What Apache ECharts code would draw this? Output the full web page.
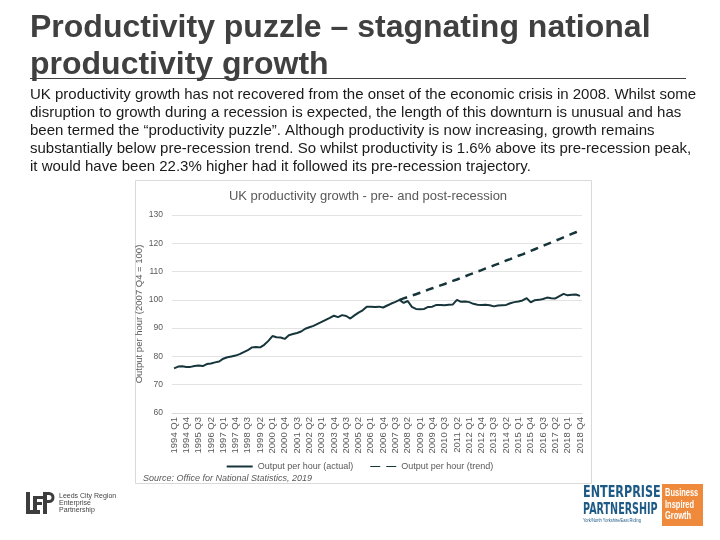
<!DOCTYPE html>
<html>
<head>
<meta charset="utf-8">
<script src="https://cdn.jsdelivr.net/npm/echarts@6/dist/echarts.min.js"></script>
<style>html,body{margin:0;padding:0;background:#fff}#c{width:720px;height:540px}</style>
</head>
<body>
<div id="c"></div>
<script>
// Quarters 1994 Q1 .. 2018 Q4
var years = [];
for (var y = 1994; y <= 2018; y++) years.push(y);
var quarters = [];
years.forEach(function (yr) { ['Q1','Q2','Q3','Q4'].forEach(function (q) { quarters.push(yr + ' ' + q); }); });

// Output per hour (actual), 2007 Q4 = 100
var actual = [
  75.8, 76.4, 76.5, 76.3, 76.3, 76.6, 76.8, 76.6, 77.3, 77.5,
  77.9, 78.2, 79.2, 79.7, 80.0, 80.3, 80.8, 81.5, 82.2, 83.2,
  83.3, 83.2, 84.1, 85.5, 87.2, 86.8, 86.7, 86.2, 87.5, 87.9,
  88.3, 88.8, 89.8, 90.3, 90.8, 91.5, 92.2, 92.9, 93.6, 94.4,
  93.9, 94.6, 94.3, 93.4, 94.5, 95.5, 96.3, 97.6, 97.6, 97.5,
  97.6, 97.3, 98.0, 98.7, 99.3, 100.0, 98.9, 99.6, 97.5, 96.8,
  96.7, 96.8, 97.5, 97.6, 98.2, 98.2, 98.1, 98.3, 98.4, 100.0,
  99.3, 99.4, 99.2, 98.6, 98.3, 98.2, 98.3, 98.1, 97.7, 98.0,
  98.1, 98.2, 98.8, 99.2, 99.4, 99.8, 100.6, 99.1, 99.9, 100.0,
  100.3, 100.8, 100.6, 100.5, 101.3, 102.1, 101.6, 101.8, 101.9, 101.4
];

// Output per hour (trend), from 2007 Q4 onwards
var trendValues = [
  100.0, 100.5, 101.0, 101.5, 102.0, 102.5, 103.0, 103.6, 104.1, 104.6,
  105.1, 105.6, 106.2, 106.7, 107.2, 107.8, 108.3, 108.9, 109.4, 110.0,
  110.5, 111.1, 111.6, 112.2, 112.7, 113.3, 113.9, 114.4, 115.0, 115.6,
  116.1, 116.7, 117.3, 117.9, 118.5, 119.1, 119.7, 120.3, 120.9, 121.5,
  122.1, 122.7, 123.3, 123.9, 124.5
];
var trendStart = '2007 Q4';
var trend = quarters.map(function (q, i) {
  var k = i - quarters.indexOf(trendStart);
  return k >= 0 ? trendValues[k] : null;
});

var yTicks = [60, 70, 80, 90, 100, 110, 120, 130];

var slideTitle = ['Productivity puzzle \u2013 stagnating national', 'productivity growth'];
var bodyLines = [
  'UK productivity growth has not recovered from the onset of the economic crisis in 2008. Whilst some',
  'disruption to growth during a recession is expected, the length of this downturn is unusual and has',
  'been termed the \u201cproductivity puzzle\u201d. Although productivity is now increasing, growth remains',
  'substantially below pre-recession trend. So whilst productivity is 1.6% above its pre-recession peak,',
  'it would have been 22.3% higher had it followed its pre-recession trajectory.'
];
var chartTitle = 'UK productivity growth - pre- and post-recession';
var yName = 'Output per hour (2007 Q4 = 100)';
var sourceText = 'Source: Office for National Statistics, 2019';
var seriesNames = ['Output per hour (actual)', 'Output per hour (trend)'];

var lineColor = '#16353b';
var chart = echarts.init(document.getElementById('c'), null, { renderer: 'canvas' });

var graphics = [];
// chart frame
graphics.push({ type: 'rect', shape: { x: 135.5, y: 180.5, width: 456, height: 303 }, style: { fill: '#fff', stroke: '#d9d9d9', lineWidth: 1 }, z: -10 });
// slide title
graphics.push({ type: 'text', x: 30, y: 28, style: { text: slideTitle[0], font: 'bold 32px "Liberation Sans", Arial, sans-serif', fill: '#404040', verticalAlign: 'middle' } });
graphics.push({ type: 'text', x: 30, y: 65, style: { text: slideTitle[1], font: 'bold 32px "Liberation Sans", Arial, sans-serif', fill: '#404040', verticalAlign: 'middle' } });
graphics.push({ type: 'line', shape: { x1: 30, y1: 78.5, x2: 686, y2: 78.5 }, style: { stroke: '#404040', lineWidth: 1 } });
// body text
bodyLines.forEach(function (t, i) {
  graphics.push({ type: 'text', x: 30, y: 95 + i * 18, style: { text: t, font: '15px "Liberation Sans", Arial, sans-serif', fill: '#1a1a1a', verticalAlign: 'middle' } });
});
// source
graphics.push({ type: 'text', x: 143, y: 478, style: { text: sourceText, font: 'italic 9px "Liberation Sans", Arial, sans-serif', fill: '#595959', verticalAlign: 'middle' } });
// LEP logo
var g = '#3d3d3d';
graphics.push({ type: 'rect', shape: { x: 26, y: 492, width: 4, height: 22 }, style: { fill: g } });
graphics.push({ type: 'rect', shape: { x: 26, y: 510, width: 14, height: 4 }, style: { fill: g } });
graphics.push({ type: 'rect', shape: { x: 33, y: 496, width: 4, height: 14 }, style: { fill: g } });
graphics.push({ type: 'rect', shape: { x: 33, y: 496, width: 10, height: 3 }, style: { fill: g } });
graphics.push({ type: 'rect', shape: { x: 33, y: 502, width: 9, height: 3 }, style: { fill: g } });
graphics.push({ type: 'rect', shape: { x: 43, y: 492, width: 4, height: 22 }, style: { fill: g } });
graphics.push({ type: 'arc', shape: { cx: 49, cy: 497.5, r: 4, startAngle: -Math.PI / 2, endAngle: Math.PI / 2, clockwise: true }, style: { stroke: g, lineWidth: 3, fill: null } });
graphics.push({ type: 'rect', shape: { x: 47, y: 492, width: 2.5, height: 3 }, style: { fill: g } });
graphics.push({ type: 'rect', shape: { x: 47, y: 500, width: 2.5, height: 3 }, style: { fill: g } });
['Leeds City Region', 'Enterprise', 'Partnership'].forEach(function (t, i) {
  graphics.push({ type: 'text', x: 59, y: 496 + i * 7, style: { text: t, font: '7px "Liberation Sans", Arial, sans-serif', fill: '#444', verticalAlign: 'middle' } });
});
// Enterprise Partnership logo
graphics.push({ type: 'text', x: 583, y: 493, scaleX: 0.7, style: { text: 'ENTERPRISE', font: 'bold 16px "DejaVu Sans", sans-serif', fill: '#1e5a86', verticalAlign: 'middle' } });
graphics.push({ type: 'text', x: 583, y: 510, scaleX: 0.6, style: { text: 'PARTNERSHIP', font: 'bold 16px "DejaVu Sans", sans-serif', fill: '#1e5a86', verticalAlign: 'middle' } });
graphics.push({ type: 'text', x: 583, y: 521, scaleX: 0.8, style: { text: 'York/North Yorkshire/East Riding', font: '5px "Liberation Sans", sans-serif', fill: '#1e5a86', verticalAlign: 'middle' } });
graphics.push({ type: 'rect', shape: { x: 662, y: 484, width: 41, height: 42 }, style: { fill: '#ef8a3c' } });
['Business', 'Inspired', 'Growth'].forEach(function (t, i) {
  graphics.push({ type: 'text', x: 665, y: 493 + i * 11.5, scaleX: 0.68, style: { text: t, font: 'bold 11px "Liberation Sans", sans-serif', fill: '#fff', verticalAlign: 'middle' } });
});

var option = {
  backgroundColor: '#fff',
  animation: false,
  title: {
    text: chartTitle, left: 363, top: 185, textAlign: 'center',
    textStyle: { fontSize: 13, fontWeight: 'normal', color: '#595959', fontFamily: '"Liberation Sans", Arial, sans-serif' }
  },
  legend: {
    left: 'center', top: 457, itemWidth: 26, itemHeight: 2, itemGap: 17,
    textStyle: { fontSize: 9, color: '#595959', fontFamily: '"Liberation Sans", Arial, sans-serif' },
    data: [
      { name: seriesNames[0], icon: 'rect' },
      { name: seriesNames[1], icon: 'path://M0,0 L10,0 L10,1 L0,1 Z M16,0 L26,0 L26,1 L16,1 Z' }
    ]
  },
  grid: { left: 172, right: 138, top: 215, bottom: 127, containLabel: false },
  xAxis: {
    type: 'category', data: quarters, boundaryGap: true,
    axisLine: { show: true, lineStyle: { color: '#d9d9d9' } },
    axisTick: { show: false },
    axisLabel: { interval: 2, rotate: 90, fontSize: 9.5, color: '#595959', margin: 4, fontFamily: '"Liberation Sans", Arial, sans-serif' }
  },
  yAxis: {
    type: 'value', min: 60, max: 130, interval: 10,
    name: yName, nameLocation: 'middle', nameGap: 28, nameMoveOverlap: false,
    nameTextStyle: { fontSize: 9.5, color: '#595959', fontFamily: '"Liberation Sans", Arial, sans-serif' },
    axisLine: { show: false }, axisTick: { show: false },
    axisLabel: { fontSize: 8.5, color: '#595959', margin: 9, fontFamily: '"Liberation Sans", Arial, sans-serif',
      formatter: function (v) { return yTicks.indexOf(v) >= 0 ? String(v) : ''; } },
    splitLine: { lineStyle: { color: '#e3e3e3' } }
  },
  series: [
    { name: seriesNames[0], type: 'line', data: actual, symbol: 'none', lineStyle: { color: lineColor, width: 2 }, itemStyle: { color: lineColor } },
    { name: seriesNames[1], type: 'line', data: trend, symbol: 'none', lineStyle: { color: lineColor, width: 2.5, type: [8, 6] }, itemStyle: { color: lineColor } }
  ],
  graphic: graphics
};
chart.setOption(option);
</script>
</body>
</html>
